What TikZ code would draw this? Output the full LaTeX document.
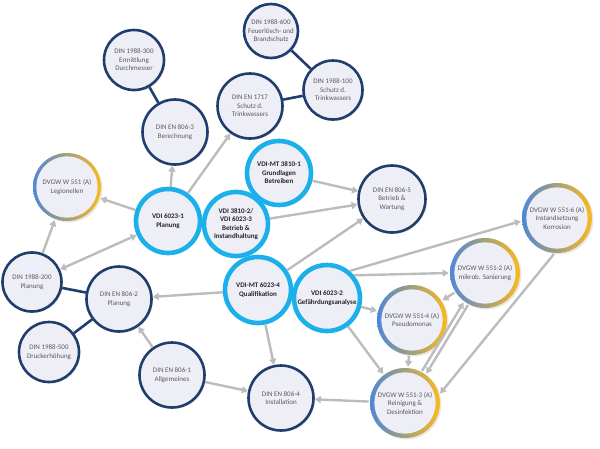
\documentclass[tikz,border=0pt]{standalone}
\usepackage{fontspec}
\setmainfont{Carlito}
\usetikzlibrary{arrows.meta,shadows}
\definecolor{navy}{RGB}{31,62,109}
\definecolor{vdicyan}{RGB}{27,176,234}
\definecolor{nodefill}{RGB}{238,238,246}
\definecolor{arrgray}{RGB}{188,188,188}
\definecolor{txtgray}{RGB}{90,90,90}
\definecolor{dvblue}{RGB}{80,135,214}
\definecolor{dvgray}{RGB}{172,166,194}
\definecolor{dvyellow}{RGB}{250,186,30}
\begin{document}
\begin{tikzpicture}[x=1pt,y=-1pt,
    din/.style={circle,draw=navy,line width=2.6pt,fill=nodefill,minimum size=65pt,
      inner sep=0pt,align=center,text=txtgray,font=\fontsize{7}{8.5}\selectfont,
      drop shadow={shadow xshift=1.5pt,shadow yshift=-1.5pt,opacity=.18}},
    vdi/.style={din,draw=vdicyan,line width=4.6pt,minimum size=64pt,text=black!85,
      font=\bfseries\fontsize{7}{8.5}\selectfont},
    dvgw/.style={din,draw=none,minimum size=70pt,
      path picture={
        \shade[left color=dvblue,middle color=dvgray,right color=dvyellow]
        (path picture bounding box.south west) rectangle (path picture bounding box.north east);
        \fill[nodefill] (path picture bounding box.center) circle[radius=30.6pt];}},
    link/.style={navy,line width=2.6pt},
    dep/.style={arrgray,line width=2.4pt,-{Triangle[length=6pt,width=7pt]}},
    both/.style={dep,{Triangle[length=6pt,width=7pt]}-{Triangle[length=6pt,width=7pt]}}]
  \useasboundingbox (0,0) rectangle (600,448);
  % DIN 1988 / DIN EN
  \node[din,minimum size=54pt] (f600) at (271,31) {DIN 1988-600\\Feuerlösch- und\\Brandschutz};
  \node[din,minimum size=59pt] (s100) at (333,90) {DIN 1988-100\\Schutz d.\\Trinkwassers};
  \node[din] (en1717) at (250,106) {DIN EN 1717\\Schutz d.\\Trinkwassers};
  \node[din,minimum size=60pt] (d300) at (134,60) {DIN 1988-300\\Ermittlung\\Durchmesser};
  \node[din] (en8063) at (175,132) {DIN EN 806-3\\Berechnung};
  \node[din,minimum size=67pt] (en8065) at (392,199) {DIN EN 806-5\\Betrieb \&\\Wartung};
  \node[din,minimum size=59pt] (d200) at (32,282) {DIN 1988-200\\Planung};
  \node[din] (en8062) at (119,299) {DIN EN 806-2\\Planung};
  \node[din,minimum size=60pt] (d500) at (49,352) {DIN 1988-500\\Druckerhöhung};
  \node[din] (en8061) at (172,375) {DIN EN 806-1\\Allgemeines};
  \node[din] (en8064) at (281,398) {DIN EN 806-4\\Installation};
  % VDI
  \node[vdi] (v60231) at (168,221) {VDI 6023-1\\Planung};
  \node[vdi] (v38102) at (236,224) {VDI 3810-2/\\VDI 6023-3\\Betrieb \&\\Instandhaltung};
  \node[vdi] (mt38101) at (279,173) {VDI-MT 3810-1\\Grundlagen\\Betreiben};
  \node[vdi,minimum size=66pt] (mt60234) at (258,290) {VDI-MT 6023-4\\Qualifikation};
  \node[vdi,minimum size=66pt] (v60232) at (327,298) {VDI 6023-2\\Gefährdungsanalyse};
  % DVGW
  \node[dvgw,minimum size=68pt] (leg) at (67,187) {DVGW W 551 (A)\\Legionellen};
  \node[dvgw] (w5514) at (412,320) {DVGW W 551-4 (A)\\Pseudomonas};
  \node[dvgw] (w5513) at (405,403) {DVGW W 551-3 (A)\\Reinigung \&\\Desinfektion};
  \node[dvgw] (w5512) at (485,273) {DVGW W 551-2 (A)\\mikrob. Sanierung};
  \node[dvgw] (w5516) at (557,218) {DVGW W 551-6 (A)\\Instandsetzung\\Korrosion};
  % links
  \draw[link] (d300) -- (en8063);
  \draw[link] (f600) -- (s100);
  \draw[link] (s100) -- (en1717);
  \draw[link] (d200) -- (en8062);
  \draw[link] (d500) -- (en8062);
  % dependencies
  \draw[dep] (v60231) -- (en8063);
  \draw[dep] (v60231) -- (en1717);
  \draw[dep] (v60231) -- (leg);
  \draw[dep] (d200) -- (leg);
  \draw[both] (d200) -- (v60231);
  \draw[dep] (mt38101) -- (en8065);
  \draw[dep] (v38102) -- (en8065);
  \draw[dep] (mt60234) -- (en8065);
  \draw[dep] (mt60234) -- (en8062);
  \draw[dep] (mt60234) -- (en8064);
  \draw[dep] (v60232.50) -- (w5516.185);
  \draw[dep] (v60232.40) -- (w5512.west);
  \draw[dep] (v60232) -- (w5514);
  \draw[dep] (v60232) -- (w5513);
  \draw[dep] (en8061) -- (en8062);
  \draw[dep] (en8061) -- (en8064);
  \draw[dep] (w5513) -- (en8064);
  \draw[dep] (w5514) -- (w5513);
  \draw[dep] (w5512) -- (w5514);
  \draw[dep] (w5513.62) -- (w5512.234);
  \draw[dep] (w5512.242) -- (w5513.54);
  \draw[dep] (w5516.265) -- (w5513.15);
\end{tikzpicture}
\end{document}
